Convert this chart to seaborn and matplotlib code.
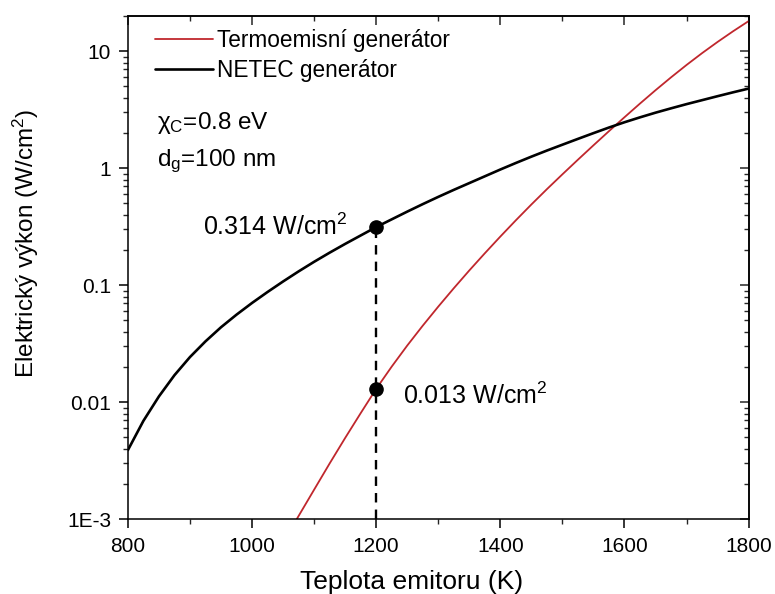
import numpy as np
import pandas as pd
import matplotlib
matplotlib.use("Agg")
import matplotlib.pyplot as plt
import matplotlib.ticker as mticker
import seaborn as sns

# data
temp_netec = [800, 825, 850, 875, 900, 925, 950, 975, 1000, 1025, 1050, 1075, 1100, 1125,
              1150, 1175, 1200, 1225, 1250, 1275, 1300, 1325, 1350, 1375, 1400, 1425,
              1450, 1475, 1500, 1525, 1550, 1575, 1600, 1625, 1650, 1675, 1700, 1725,
              1750, 1775, 1800]
power_netec = [0.00389, 0.00692, 0.0112, 0.0170, 0.0243, 0.0331, 0.0437, 0.0560, 0.0705,
               0.0875, 0.1076, 0.1312, 0.1585, 0.1897, 0.2254, 0.2661, 0.314, 0.3656,
               0.4256, 0.4932, 0.5689, 0.6531, 0.7464, 0.8531, 0.975, 1.109, 1.256, 1.416,
               1.589, 1.782, 1.995, 2.228, 2.472, 2.723, 2.985, 3.251, 3.532, 3.819, 4.130,
               4.457, 4.797]

temp_termo = [1072, 1100, 1125, 1150, 1175, 1200, 1225, 1250, 1275, 1300, 1325, 1350,
              1375, 1400, 1425, 1450, 1475, 1500, 1525, 1550, 1575, 1600, 1625, 1650,
              1675, 1700, 1725, 1750, 1775, 1800]
power_termo = [0.001, 0.001786, 0.002992, 0.004943, 0.008054, 0.013, 0.02014, 0.03048,
               0.04508, 0.06561, 0.09419, 0.1337, 0.1875, 0.2606, 0.3589, 0.4898, 0.6622,
               0.8872, 1.183, 1.570, 2.075, 2.729, 3.573, 4.645, 5.984, 7.638, 9.638,
               12.02, 14.83, 18.11]

mark_temp = 1200
mark_netec = 0.314
mark_termo = 0.013

ytick_vals = [1e-3, 0.01, 0.1, 1, 10]
ytick_labels = ["1E-3", "0.01", "0.1", "1", "10"]
xtick_vals = [800, 1000, 1200, 1400, 1600, 1800]

sns.set_style("ticks")
plt.rcParams["font.family"] = ["Liberation Sans", "DejaVu Sans"]
plt.rcParams["mathtext.fontset"] = "custom"
plt.rcParams["mathtext.rm"] = "Liberation Sans"
plt.rcParams["mathtext.it"] = "Liberation Sans:italic"
plt.rcParams["text.color"] = "black"
plt.rcParams["axes.labelcolor"] = "black"

df = pd.concat([
    pd.DataFrame({"T": temp_termo, "P": power_termo, "serie": "Termoemisní generátor"}),
    pd.DataFrame({"T": temp_netec, "P": power_netec, "serie": "NETEC generátor"}),
])

fig, ax = plt.subplots(figsize=(7.75, 5.94), dpi=100)
fig.subplots_adjust(left=0.165, right=0.966, bottom=0.126, top=0.973)

sns.lineplot(data=df, x="T", y="P", hue="serie",
             palette={"Termoemisní generátor": "#c0272d", "NETEC generátor": "black"},
             ax=ax, sort=False, estimator=None, legend=True)
for line, lw in zip(ax.lines, [1.3, 1.9]):
    line.set_linewidth(lw)

# dashed guide and the two marked points
ax.plot([mark_temp, mark_temp], [1e-3, mark_netec], ls=(0, (4, 3)), color="black", lw=1.7)
ax.plot([mark_temp, mark_temp], [mark_netec, mark_termo], "o", color="black", ms=9.5)

ax.annotate("0.314 W/cm$^2$", (mark_temp, mark_netec), xytext=(-21, 0),
            textcoords="offset points", ha="right", va="center", fontsize=18)
ax.annotate("0.013 W/cm$^2$", (mark_temp, mark_termo), xytext=(19, -5),
            textcoords="offset points", ha="left", va="center", fontsize=18)

ax.text(0.047, 0.787, "χ$_\\mathrm{C}$=0.8 eV", transform=ax.transAxes,
        ha="left", va="center", fontsize=17.5)
ax.text(0.047, 0.712, "d$_\\mathrm{g}$=100 nm", transform=ax.transAxes,
        ha="left", va="center", fontsize=17.5)

ax.set_yscale("log")
ax.set_xlim(800, 1800)
ax.set_ylim(1e-3, 20)
ax.set_xticks(xtick_vals)
ax.xaxis.set_minor_locator(mticker.MultipleLocator(100))
ax.yaxis.set_major_locator(mticker.FixedLocator(ytick_vals))
ax.yaxis.set_major_formatter(mticker.FixedFormatter(ytick_labels))
ax.yaxis.set_minor_locator(mticker.LogLocator(base=10, subs=np.arange(2, 10)))
ax.yaxis.set_minor_formatter(mticker.NullFormatter())
ax.tick_params(which="major", direction="out", length=6.5, width=1.1, labelsize=15, colors="black")
ax.tick_params(which="minor", direction="out", length=3.5, width=1.0)
ax.tick_params(axis="x", which="major", pad=6.5)
ax.tick_params(axis="y", which="major", pad=5.5)

# top / right ticks pointing inwards without labels
secx = ax.secondary_xaxis("top")
secx.set_xticks(xtick_vals)
secx.xaxis.set_minor_locator(mticker.MultipleLocator(100))
secx.tick_params(which="major", direction="in", length=6.5, width=1.1, labeltop=False)
secx.tick_params(which="minor", direction="in", length=3.5, width=1.0)
secy = ax.secondary_yaxis("right")
secy.yaxis.set_major_locator(mticker.FixedLocator(ytick_vals))
secy.yaxis.set_minor_locator(mticker.LogLocator(base=10, subs=np.arange(2, 10)))
secy.tick_params(which="major", direction="in", length=6.5, width=1.1, labelright=False)
secy.tick_params(which="minor", direction="in", length=3.5, width=1.0, labelright=False)
secy.yaxis.set_minor_formatter(mticker.NullFormatter())
secy.yaxis.set_major_formatter(mticker.NullFormatter())

for sp in list(ax.spines.values()) + [secx.spines["top"], secy.spines["right"]]:
    sp.set_linewidth(1.1)
    sp.set_color("black")

ax.set_xlabel("Teplota emitoru (K)", fontsize=19)
ax.xaxis.set_label_coords(0.457, -0.102)
ax.set_ylabel("Elektrický výkon (W/cm$^2$)", fontsize=17.5)
ax.yaxis.set_label_coords(-0.140, 0.548)

leg = ax.legend(loc="upper left", bbox_to_anchor=(0.043, 0.975), frameon=False,
                fontsize=16.3, handlelength=2.6, handletextpad=0.15, labelspacing=0.33,
                borderpad=0, borderaxespad=0)
for h, lw in zip(leg.get_lines(), [1.3, 1.9]):
    h.set_linewidth(lw)

plt.savefig("out.png", dpi=100)
